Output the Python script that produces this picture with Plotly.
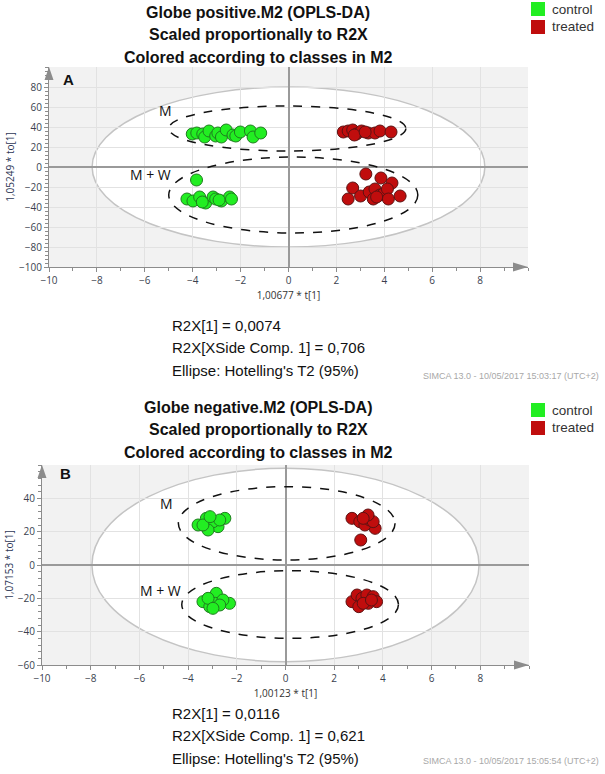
import plotly.graph_objects as go

# ---------------- data ----------------
# Panel A : Globe positive.M2
a_ctrl_M_x = [-4.02, -3.83, -3.58, -3.50, -3.32, -3.04, -2.95, -2.80, -2.60, -2.32, -2.20, -2.01, -1.59, -1.48, -1.16]
a_ctrl_M_y = [33, 34, 33, 30, 36, 31, 34, 30, 37, 32, 31, 35, 36, 30, 34]
a_ctrl_MW_x = [-3.84, -4.24, -3.99, -3.71, -3.46, -3.15, -3.04, -2.80, -2.46, -2.38, -3.60, -2.90]
a_ctrl_MW_y = [-13, -32, -34, -30, -36, -30, -32, -34, -30, -32, -35, -33]
a_treat_M_x = [2.29, 2.49, 2.68, 2.84, 3.05, 3.33, 3.61, 3.82, 4.28, 2.75, 3.20]
a_treat_M_y = [35, 36, 37, 33, 36, 34, 34, 36, 35, 32, 35]
a_treat_MW_x = [3.23, 3.86, 4.32, 2.68, 2.49, 3.01, 3.37, 3.61, 3.54, 3.82, 3.96, 4.13, 4.17, 4.66, 3.68]
a_treat_MW_y = [-7, -11, -16, -21, -32, -29, -25, -22, -32, -28, -27, -22, -32, -29, -30]

# Panel B : Globe negative.M2
b_ctrl_M_x = [-3.59, -3.25, -2.77, -2.49, -2.97, -3.18, -3.39, -2.70, -3.10]
b_ctrl_M_y = [24, 28, 23, 28, 26, 21, 24, 27, 29]
b_ctrl_MW_x = [-3.39, -3.11, -2.84, -2.87, -2.30, -2.57, -3.18, -2.70, -2.98]
b_ctrl_MW_y = [-22, -25, -17, -23, -23, -21, -20, -24, -26]
b_treat_M_x = [2.73, 3.34, 3.68, 3.09, 3.05, 3.26, 3.46, 3.60, 3.39, 3.19]
b_treat_M_y = [28, 29, 22, 15, 26, 24, 27, 26, 30, 28]
b_treat_MW_x = [2.73, 2.94, 3.14, 3.34, 3.60, 3.74, 3.40, 3.01, 3.19, 3.53]
b_treat_MW_y = [-22, -18, -20, -18, -19, -22, -23, -25, -23, -21]

# Hotelling T2 ellipses: (x centre, y centre, x semi-axis, y semi-axis)
a_outer = (0.0, 0.0, 8.2, 80)
a_ell_M = (-0.05, 38.5, 4.95, 22.5)
a_ell_MW = (0.2, -28, 5.2, 38)
b_outer = (0.0, 0.0, 7.95, 58)
b_ell_M = (0.05, 25, 4.45, 22)
b_ell_MW = (0.19, -23.7, 4.45, 20.3)

x_ticks = [-10, -8, -6, -4, -2, 0, 2, 4, 6, 8]
a_y_ticks = [-100, -80, -60, -40, -20, 0, 20, 40, 60, 80]
b_y_ticks = [-60, -40, -20, 0, 20, 40]

classes = ["control", "treated"]
a_titles = ["Globe positive.M2 (OPLS-DA)", "Scaled proportionally to R2X", "Colored according to classes in M2"]
b_titles = ["Globe negative.M2 (OPLS-DA)", "Scaled proportionally to R2X", "Colored according to classes in M2"]
a_info = ["R2X[1] = 0,0074", "R2X[XSide Comp. 1] = 0,706", "Ellipse: Hotelling's T2 (95%)"]
b_info = ["R2X[1] = 0,0116", "R2X[XSide Comp. 1] = 0,621", "Ellipse: Hotelling's T2 (95%)"]
a_footer = "SIMCA 13.0 - 10/05/2017 15:03:17 (UTC+2)"
b_footer = "SIMCA 13.0 - 10/05/2017 15:05:54 (UTC+2)"
a_xtitle, a_ytitle = "1,00677 * t[1]", "1,05249 * to[1]"
b_xtitle, b_ytitle = "1,00123 * t[1]", "1,07153 * to[1]"

# ---------------- styling ----------------
W, H = 605, 774
def px(x): return x / W
def py(y): return 1 - y / H

GREEN, GREEN_EDGE = "#22ee22", "#1f7d1f"
RED, RED_EDGE = "#c00d0d", "#5e1212"
CLASS_COLORS = [GREEN, RED]
FONT = "Liberation Sans"
TICKFAM = "Open Sans"
TICKFONT = dict(family=TICKFAM, size=10, color="#3a3f4f")

fig = go.Figure()

def add_points(xs, ys, name, color, edge, xa, ya):
    fig.add_trace(go.Scatter(
        x=xs, y=ys, mode="markers", name=name, xaxis=xa, yaxis=ya, showlegend=False,
        marker=dict(size=12, color=color, line=dict(color=edge, width=1))))

add_points(a_ctrl_M_x, a_ctrl_M_y, "control", GREEN, GREEN_EDGE, "x", "y")
add_points(a_ctrl_MW_x, a_ctrl_MW_y, "control", GREEN, GREEN_EDGE, "x", "y")
add_points(a_treat_M_x, a_treat_M_y, "treated", RED, RED_EDGE, "x", "y")
add_points(a_treat_MW_x, a_treat_MW_y, "treated", RED, RED_EDGE, "x", "y")
add_points(b_ctrl_M_x, b_ctrl_M_y, "control", GREEN, GREEN_EDGE, "x2", "y2")
add_points(b_ctrl_MW_x, b_ctrl_MW_y, "control", GREEN, GREEN_EDGE, "x2", "y2")
add_points(b_treat_M_x, b_treat_M_y, "treated", RED, RED_EDGE, "x2", "y2")
add_points(b_treat_MW_x, b_treat_MW_y, "treated", RED, RED_EDGE, "x2", "y2")

# ellipses
def ellipse(e, xr, yr, line, fill, dash, layer):
    cx, cy, rx, ry = e
    fig.add_shape(type="circle", xref=xr, yref=yr, x0=cx - rx, x1=cx + rx, y0=cy - ry, y1=cy + ry,
                  line=dict(color=line, width=1.5, dash=dash), fillcolor=fill, layer=layer)

ellipse(a_outer, "x", "y", "#c4c4c4", "white", "solid", "below")
ellipse(a_ell_M, "x", "y", "#111111", "rgba(0,0,0,0)", "dash", "between")
ellipse(a_ell_MW, "x", "y", "#111111", "rgba(0,0,0,0)", "dash", "between")
ellipse(b_outer, "x2", "y2", "#c4c4c4", "white", "solid", "below")
ellipse(b_ell_M, "x2", "y2", "#111111", "rgba(0,0,0,0)", "dash", "between")
ellipse(b_ell_MW, "x2", "y2", "#111111", "rgba(0,0,0,0)", "dash", "between")

# axis arrows (triangles at end of axis lines)
def arrows(xr, yr, wpx, hpx):
    dx, dy = 4.5 / wpx, 13 / hpx
    fig.add_shape(type="path", xref=xr + " domain", yref=yr + " domain",
                  path=f"M 0 1 L {-dx} {1-dy} L {dx} {1-dy} Z",
                  fillcolor="#8c8c8c", line=dict(width=0), layer="above")
    ex, ey = 15 / wpx, 4.5 / hpx
    fig.add_shape(type="path", xref=xr + " domain", yref=yr + " domain",
                  path=f"M 1 0 L {1-ex} {ey} L {1-ex} {-ey} Z",
                  fillcolor="#8c8c8c", line=dict(width=0), layer="above")

A_L, A_R, A_T, A_B = 49, 528, 67, 267
B_L, B_R, B_T, B_B = 42, 529, 465, 665
arrows("x", "y", A_R - A_L, A_B - A_T)
arrows("x2", "y2", B_R - B_L, B_B - B_T)

def xaxis_cfg(L, R, anchor, title):
    return dict(domain=[px(L), px(R)], anchor=anchor, range=[-10, 10], tickvals=x_ticks,
                showgrid=True, gridcolor="#e2e2e2", gridwidth=1,
                zeroline=True, zerolinecolor="#9a9a9a", zerolinewidth=1.5,
                showline=True, linecolor="#8c8c8c", linewidth=1.2,
                ticks="outside", ticklen=4, tickcolor="#8c8c8c", tickfont=TICKFONT,
                minor=dict(dtick=1, ticks="outside", ticklen=3, tickcolor="#8c8c8c", showgrid=False),
                title=dict(text=title, font=dict(family=TICKFAM, size=10, color="#333"), standoff=5),
                automargin=False, fixedrange=True)

def yaxis_cfg(T, B, anchor, rng, ticks, title):
    return dict(domain=[py(B), py(T)], anchor=anchor, range=rng, tickvals=ticks,
                showgrid=True, gridcolor="#e2e2e2", gridwidth=1,
                zeroline=True, zerolinecolor="#9a9a9a", zerolinewidth=1.5,
                showline=True, linecolor="#8c8c8c", linewidth=1.2,
                ticks="outside", ticklen=4, tickcolor="#8c8c8c", tickfont=TICKFONT,
                minor=dict(dtick=4, ticks="outside", ticklen=3, tickcolor="#8c8c8c", showgrid=False),
                title=dict(text=title, font=dict(family=TICKFAM, size=10, color="#2e3756"), standoff=2),
                automargin=False, fixedrange=True)

annotations = []
def txt(x, y, s, size, bold=False, color="#111", xanchor="center", family=FONT):
    annotations.append(dict(xref="paper", yref="paper", x=px(x), y=py(y), text=f"<b>{s}</b>" if bold else s,
                            showarrow=False, xanchor=xanchor, yanchor="middle",
                            font=dict(family=family, size=size, color=color)))

for i, t in enumerate(a_titles):
    txt(258, 12 + 22.5 * i, t, 16, bold=True)
for i, t in enumerate(b_titles):
    txt(258, 407 + 22.5 * i, t, 16, bold=True)
for i, t in enumerate(a_info):
    txt(170, 325 + 22.5 * i, t, 15, xanchor="left")
for i, t in enumerate(b_info):
    txt(170, 713 + 22.5 * i, t, 15, xanchor="left")
txt(601, 376, a_footer, 9, color="#a8a8a8", xanchor="right")
txt(601, 761, b_footer, 9, color="#a8a8a8", xanchor="right")

# class key (SIMCA-style square swatches)
for top in (9, 410):
    for i, (name, col) in enumerate(zip(classes, CLASS_COLORS)):
        yc = top + 18 * i
        fig.add_shape(type="rect", xref="paper", yref="paper",
                      x0=px(531), x1=px(545), y0=py(yc + 7), y1=py(yc - 7),
                      fillcolor=col, line=dict(width=0), layer="above")
        txt(550, yc, name, 13.5, color="#333", xanchor="left")

# panel letters and group labels
txt(68, 79, "A", 15, bold=True)
txt(65, 473, "B", 15, bold=True)
for xr, yr, x, y, s in [("x", "y", -5.13, 56, "M"), ("x", "y", -5.78, -8, "M + W"),
                        ("x2", "y2", -4.9, 37, "M"), ("x2", "y2", -5.15, -15, "M + W")]:
    annotations.append(dict(xref=xr, yref=yr, x=x, y=y, text=s, showarrow=False,
                            font=dict(family=TICKFAM, size=14, color="#111")))

fig.update_layout(
    width=W, height=H, margin=dict(l=0, r=0, t=0, b=0, autoexpand=False),
    paper_bgcolor="white", plot_bgcolor="#f2f2f2",
    xaxis=xaxis_cfg(A_L, A_R, "y", a_xtitle),
    yaxis=yaxis_cfg(A_T, A_B, "x", [-100, 100], a_y_ticks, a_ytitle),
    xaxis2=xaxis_cfg(B_L, B_R, "y2", b_xtitle),
    yaxis2=yaxis_cfg(B_T, B_B, "x2", [-60, 60], b_y_ticks, b_ytitle),
    annotations=annotations,
    showlegend=False,
)

fig.write_html("out.html", config={"displayModeBar": False},
               post_script="document.body.style.margin='0';")
